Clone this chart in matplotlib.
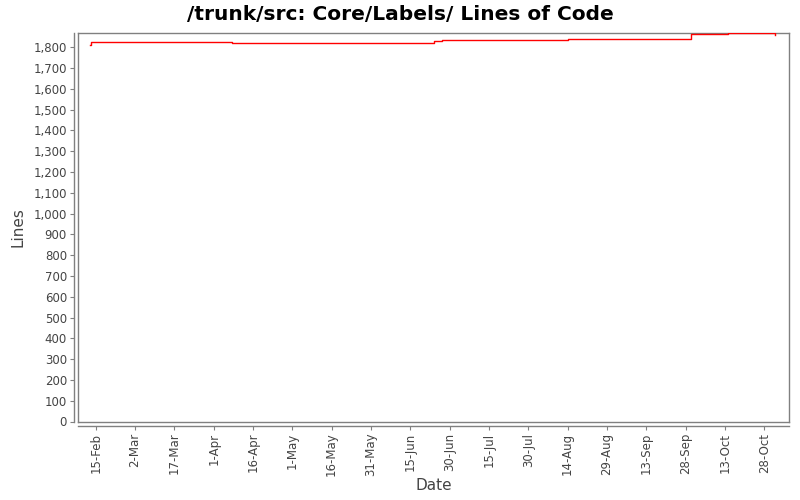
import matplotlib
matplotlib.use("Agg")
import matplotlib.pyplot as plt
import matplotlib.dates as mdates
import numpy as np
from datetime import datetime

# Data
dates = ["2009-02-13 00:00", "2009-02-13 01:00", "2009-04-08", "2009-06-24", "2009-06-27",
         "2009-08-14", "2009-09-30", "2009-10-14", "2009-11-01 00:00", "2009-11-01 01:00"]
lines = [1813, 1827, 1822, 1831, 1836, 1841, 1862, 1867, 1867, 1860]
tick_dates = ["2009-02-15", "2009-03-02", "2009-03-17", "2009-04-01", "2009-04-16",
              "2009-05-01", "2009-05-16", "2009-05-31", "2009-06-15", "2009-06-30",
              "2009-07-15", "2009-07-30", "2009-08-14", "2009-08-29", "2009-09-13",
              "2009-09-28", "2009-10-13", "2009-10-28"]
y_ticks = list(range(0, 1900, 100))

title = "/trunk/src: Core/Labels/ Lines of Code"

x = [datetime.fromisoformat(d) for d in dates]
tx = [datetime.fromisoformat(d) for d in tick_dates]

fig = plt.figure(figsize=(8, 5), dpi=100)
ax = fig.add_axes([78 / 800, (500 - 421.5) / 500, 710.7 / 800, 388.2 / 500])

ax.plot(x, lines, drawstyle="steps-post", color="#ff0000", lw=1.0, zorder=3)

ax.set_xlim(datetime(2009, 2, 8, 6), datetime(2009, 11, 6, 8))
ax.set_ylim(0, 1867)

ax.set_xticks(tx)
ax.xaxis.set_major_formatter(mdates.DateFormatter("%-d-%b"))
ax.set_yticks(y_ticks)
ax.set_yticklabels([f"{v:,}" for v in y_ticks])

gray = "#808080"
ax.tick_params(axis="both", colors=gray, labelcolor="#444444", labelsize=8.5,
               length=3, width=0.8, direction="out", pad=2)
ax.tick_params(axis="x", labelrotation=90)

for s in ["left", "bottom"]:
    ax.spines[s].set_position(("outward", 3))
for s in ax.spines.values():
    s.set_color(gray)
    s.set_linewidth(1.0)

# Plot frame (left and bottom edges; top/right from spines)
ax.plot([0, 0], [0, 1], transform=ax.transAxes, color=gray, lw=1.0, clip_on=False, zorder=2.5)
ax.plot([0, 1], [0, 0], transform=ax.transAxes, color=gray, lw=1.0, clip_on=False, zorder=2.5)

ax.set_xlabel("Date", fontsize=11, color="#444444", labelpad=1)
ax.set_ylabel("Lines", fontsize=11, color="#444444", labelpad=6)

fig.text(0.5, 1 - 14 / 500, title, ha="center", va="center",
         fontsize=14.5, fontweight="bold", color="black")

fig.savefig("out.png", dpi=100, facecolor="white")
